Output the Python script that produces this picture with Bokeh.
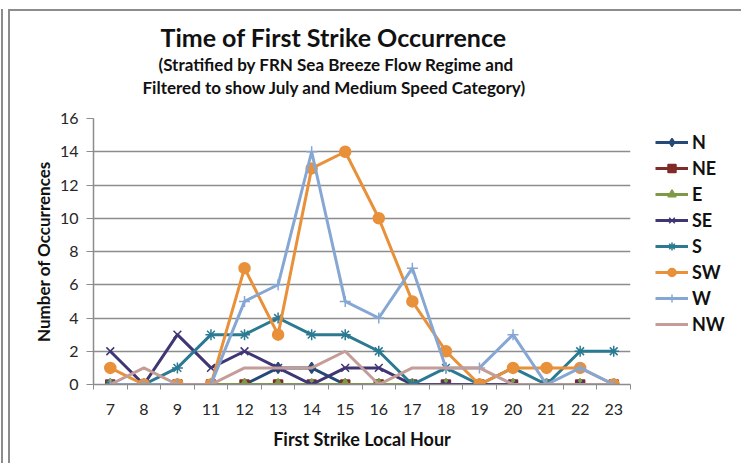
from bokeh.plotting import figure
from bokeh.models import Range1d, FixedTicker, Legend, LegendItem, Title
from bokeh.embed import file_html
from bokeh.resources import INLINE

hours = ["7", "8", "9", "11", "12", "13", "14", "15", "16", "17", "18", "19", "20", "21", "22", "23"]
N  = [0, 0, 0, 0, 0, 1, 1, 0, 0, 0, 0, 0, 0, 0, 0, 0]
NE = [0, 0, 0, 0, 0, 0, 0, 0, 0, 0, 0, 0, 0, 0, 0, 0]
E  = [0, 0, 0, 0, 0, 0, 0, 0, 0, 0, 0, 0, 0, 0, 0, 0]
SE = [2, 0, 3, 1, 2, 1, 0, 1, 1, 0, 0, 0, 0, 0, 0, 0]
S  = [0, 0, 1, 3, 3, 4, 3, 3, 2, 0, 1, 0, 1, 0, 2, 2]
SW = [1, 0, 0, 0, 7, 3, 13, 14, 10, 5, 2, 0, 1, 1, 1, 0]
W  = [0, 0, 0, 0, 5, 6, 14, 5, 4, 7, 1, 1, 3, 0, 1, 0]
NW = [0, 1, 0, 0, 1, 1, 1, 2, 0, 1, 1, 1, 0, 0, 0, 0]
y_ticks = [0, 2, 4, 6, 8, 10, 12, 14, 16]

series_names = ["N", "NE", "E", "SE", "S", "SW", "W", "NW"]
series_vals = [N, NE, E, SE, S, SW, W, NW]
colors = ["#254A7A", "#7F2B28", "#7F9A45", "#403575", "#2B7A91", "#E8903A", "#86A7D3", "#C49C98"]
markers = ["diamond", "square", "triangle", "x", "asterisk", "circle", "cross", None]
msizes = [11, 9, 10, 11, 11, 11, 11, 0]

FONT = "Lato"

p = figure(frame_width=537, frame_height=266, output_backend="svg", toolbar_location=None,
           x_range=Range1d(-0.5, len(hours) - 0.5), y_range=Range1d(0, 16),
           min_border_left=83, min_border_right=104, min_border_top=107, min_border_bottom=79,
           title=None)
p.styles = {"margin-left": "8px", "margin-top": "9px",
            "border-style": "solid", "border-width": "2px 2px 0px 2px",
            "border-color": "#8c8c8c",
            "box-shadow": "-5px 0px 0px 0px white, -7px 0px 0px 0px #8c8c8c"}
p.outline_line_color = None
p.background_fill_color = "white"
p.border_fill_color = "white"

xs = list(range(len(hours)))
items = []
for name, vals, col, mk, ms in zip(series_names, series_vals, colors, markers, msizes):
    r_line = p.line(xs, vals, line_color=col, line_width=3)
    rs = [r_line]
    if mk is not None:
        r_m = p.scatter(xs, vals, marker=mk, size=ms, fill_color=col, line_color=col, line_width=1.5)
        rs.append(r_m)
    items.append(LegendItem(label=name, renderers=rs))

# x axis
p.xaxis.ticker = FixedTicker(ticks=xs, minor_ticks=[i - 0.5 for i in range(len(hours) + 1)])
p.xaxis.major_label_overrides = {i: h for i, h in enumerate(hours)}
p.xaxis.major_tick_out = 0
p.xaxis.major_tick_in = 0
p.xaxis.minor_tick_out = 5
p.xaxis.minor_tick_in = 0
p.xaxis.minor_tick_line_color = "#8c8c8c"
p.xaxis.axis_line_color = "#8c8c8c"
p.xaxis.axis_line_width = 1.5
p.xaxis.major_label_standoff = 14
p.xaxis.major_label_text_font = FONT
p.xaxis.major_label_text_font_size = "16px"
p.xaxis.major_label_text_color = "#262626"
p.xaxis.axis_label = "First Strike Local Hour"
p.xaxis.axis_label_text_font = FONT
p.xaxis.axis_label_text_font_size = "18px"
p.xaxis.axis_label_text_font_style = "bold"
p.xaxis.axis_label_text_color = "#111111"
p.xaxis.axis_label_standoff = 10
p.xgrid.grid_line_color = None

# y axis
p.yaxis.ticker = FixedTicker(ticks=y_ticks)
p.yaxis.major_tick_out = 7
p.yaxis.major_tick_in = 0
p.yaxis.minor_tick_line_color = None
p.yaxis.major_tick_line_color = "#8c8c8c"
p.yaxis.axis_line_color = "#8c8c8c"
p.yaxis.axis_line_width = 1.5
p.yaxis.major_label_standoff = 8
p.yaxis.major_label_text_font = FONT
p.yaxis.major_label_text_font_size = "16px"
p.yaxis.major_label_text_color = "#262626"
p.yaxis.axis_label = "Number of Occurrences"
p.yaxis.axis_label_text_font = FONT
p.yaxis.axis_label_text_font_size = "17px"
p.yaxis.axis_label_text_font_style = "bold"
p.yaxis.axis_label_text_color = "#111111"
p.yaxis.axis_label_standoff = 3
p.ygrid.ticker = FixedTicker(ticks=y_ticks)
p.ygrid.grid_line_color = "#8c8c8c"
p.ygrid.grid_line_width = 1.5

# legend
legend = Legend(items=items, location=(25, 49), orientation="vertical",
                glyph_width=33, glyph_height=20, label_height=20, spacing=4,
                label_standoff=4, padding=0, margin=0,
                border_line_color=None, background_fill_alpha=0,
                label_text_font=FONT, label_text_font_size="18px",
                label_text_font_style="bold", label_text_color="#111111")
p.add_layout(legend, "right")

# titles (first added sits nearest the frame)
titles = [("Filtered to show July and Medium Speed Category)", "17px", (0, 0, 0, 21), 49, 1.0),
          ("(Stratified by FRN Sea Breeze Flow Regime and", "17px", 0, 65, 1.0),
          ("Time of First Strike Occurrence", "25px", 0, 67, 1.2)]
for txt, fs, pad, off, lh in titles:
    p.add_layout(Title(text=txt, align="left", offset=off, standoff=0, padding=pad,
                       text_line_height=lh,
                       text_font=FONT, text_font_size=fs, text_font_style="bold",
                       text_color="#111111"), "above")

open("out.html", "w").write(file_html(p, INLINE))
